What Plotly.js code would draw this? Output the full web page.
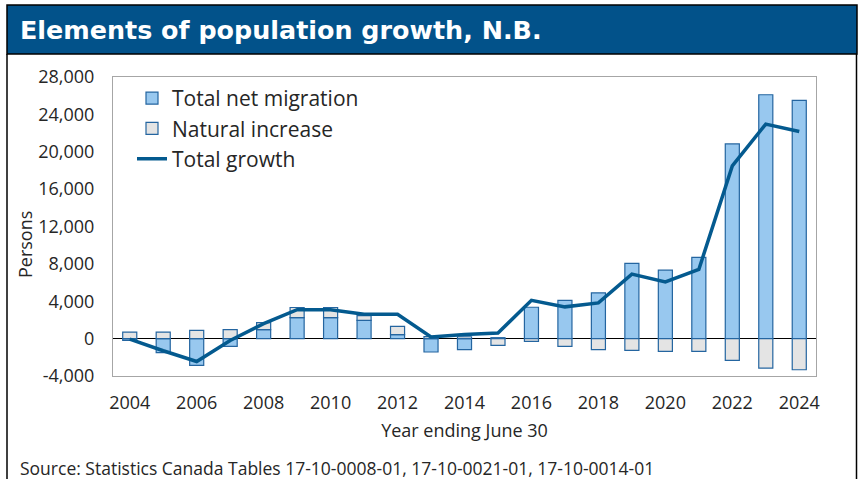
<!DOCTYPE html>
<html>
<head>
<meta charset="utf-8">
<script src="https://cdn.plot.ly/plotly-3.0.1.min.js"></script>
<style>
  html, body { margin: 0; padding: 0; background: #ffffff; }
  #chart { width: 858px; height: 479px; }
</style>
</head>
<body>
<div id="chart"></div>
<script>
// ---- data ----
const years = [2004, 2005, 2006, 2007, 2008, 2009, 2010, 2011, 2012, 2013, 2014,
               2015, 2016, 2017, 2018, 2019, 2020, 2021, 2022, 2023, 2024];
const netMigration = [-180, -1500, -2860, -830, 960, 2250, 2250, 1960, 430, -1430, -1180,
                      100, 3360, 4100, 4900, 8050, 7330, 8690, 20840, 26100, 25490];
const naturalIncrease = [700, 700, 890, 960, 760, 1080, 1080, 510, 890, 210, 200,
                         -720, -290, -820, -1180, -1250, -1360, -1360, -2330, -3150, -3330];
const totalGrowth = [-50, -1300, -2450, -200, 1600, 3100, 3100, 2600, 2600, 170, 430,
                     600, 4100, 3400, 3820, 6900, 6070, 7400, 18490, 22960, 22170];
const xTickVals = [2004, 2006, 2008, 2010, 2012, 2014, 2016, 2018, 2020, 2022, 2024];
const yTickVals = [-4000, 0, 4000, 8000, 12000, 16000, 20000, 24000, 28000];
const yTickText = ["-4,000", "0", "4,000", "8,000", "12,000", "16,000", "20,000", "24,000", "28,000"];
const seriesNames = ["Total net migration", "Natural increase", "Total growth"];

// ---- styling ----
const FONT = "'Open Sans', 'Noto Sans', sans-serif";
const TXT = "#262626";
const W = 858, H = 479;
const M = {l: 113, r: 42, t: 77, b: 103};
const PW = W - M.l - M.r, PH = H - M.t - M.b;
const px = x => (x - M.l) / PW;           // pixel -> paper x
const py = y => (H - M.b - y) / PH;       // pixel -> paper y

const traces = [
  {
    type: "bar", name: seriesNames[0], x: years, y: netMigration, width: 0.42,
    marker: {color: "#98C8EF", line: {color: "#2465A0", width: 1.2}},
    hoverinfo: "x+y"
  },
  {
    type: "bar", name: seriesNames[1], x: years, y: naturalIncrease, width: 0.42,
    marker: {color: "#E4E4E4", line: {color: "#2465A0", width: 1.2}},
    hoverinfo: "x+y"
  },
  {
    type: "scatter", mode: "lines", name: seriesNames[2], x: years, y: totalGrowth,
    line: {color: "#045A8F", width: 3.5}, hoverinfo: "x+y"
  }
];

const layout = {
  width: W, height: H, autosize: false,
  margin: M,
  paper_bgcolor: "#ffffff", plot_bgcolor: "#ffffff",
  font: {family: FONT, color: TXT, size: 18},
  barmode: "relative",
  showlegend: true,
  legend: {
    x: px(132), y: py(78), xanchor: "left", yanchor: "top",
    bgcolor: "rgba(0,0,0,0)", borderwidth: 0,
    font: {family: FONT, size: 21, color: TXT},
    traceorder: "normal", itemwidth: 30, tracegroupgap: 0
  },
  xaxis: {
    range: [2003.5, 2024.5], tickvals: xTickVals, ticktext: xTickVals.map(String),
    showgrid: false, zeroline: false, ticks: "",
    showline: true, linecolor: "#A6A6A6", linewidth: 1, mirror: true,
    tickfont: {family: FONT, size: 18, color: TXT},
    ticklabelstandoff: 10,
    title: {text: "Year ending June 30", font: {family: FONT, size: 18, color: TXT}, standoff: 11}
  },
  yaxis: {
    range: [-4000, 28000], tickvals: yTickVals, ticktext: yTickText,
    showgrid: false, ticks: "",
    zeroline: true, zerolinecolor: "#000000", zerolinewidth: 1.5,
    showline: true, linecolor: "#A6A6A6", linewidth: 1, mirror: true,
    tickfont: {family: FONT, size: 18, color: TXT},
    ticklabelstandoff: 14
  },
  shapes: [
    {type: "rect", xref: "paper", yref: "paper", x0: px(7), x1: px(857), y0: py(54), y1: py(5),
     fillcolor: "#02528A", line: {color: "#000000", width: 1.5}, layer: "below"},
    {type: "line", xref: "paper", yref: "paper", x0: px(7), x1: px(7), y0: py(54), y1: py(500),
     line: {color: "#000000", width: 1.5}},
    {type: "line", xref: "paper", yref: "paper", x0: px(856.5), x1: px(856.5), y0: py(54), y1: py(500),
     line: {color: "#000000", width: 1.5}}
  ],
  annotations: [
    {text: "<b>Elements of population growth, N.B.</b>", xref: "paper", yref: "paper",
     x: px(18), y: py(30), xanchor: "left", yanchor: "middle", showarrow: false,
     font: {family: "'DejaVu Sans', 'Open Sans', sans-serif", size: 25.4, color: "#ffffff"}},
    {text: "Persons", xref: "paper", yref: "paper", x: px(25), y: py(245),
     xanchor: "center", yanchor: "middle", textangle: -90, showarrow: false,
     font: {family: FONT, size: 18, color: TXT}},
    {text: "Source: Statistics Canada Tables 17-10-0008-01, 17-10-0021-01, 17-10-0014-01",
     xref: "paper", yref: "paper", x: px(18), y: py(468), xanchor: "left", yanchor: "middle",
     showarrow: false, font: {family: FONT, size: 17.5, color: TXT}}
  ]
};

Plotly.newPlot("chart", traces, layout, {displayModeBar: false, staticPlot: true});
</script>
</body>
</html>
